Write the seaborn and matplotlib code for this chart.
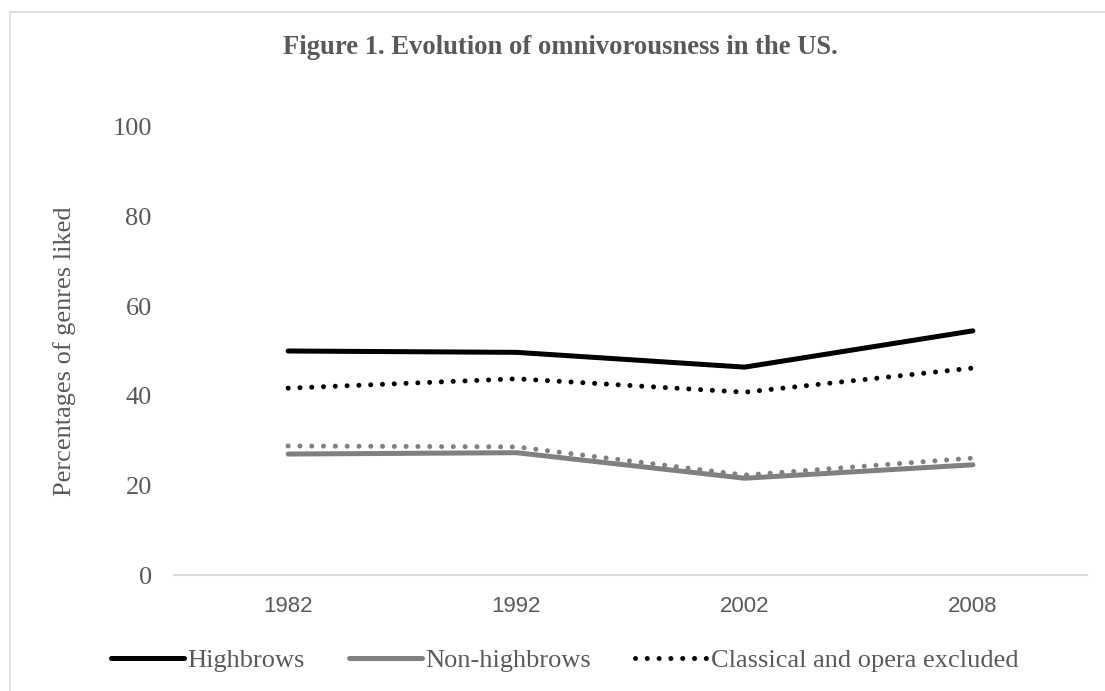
import numpy as np
import pandas as pd
import matplotlib
matplotlib.use("Agg")
import matplotlib.pyplot as plt
from matplotlib.lines import Line2D
import seaborn as sns

# ---- data ----
years = ["1982", "1992", "2002", "2008"]
highbrows = [50.0, 49.7, 46.4, 54.5]
non_highbrows = [27.0, 27.3, 21.6, 24.6]
highbrows_excl = [41.7, 43.8, 40.8, 46.2]
non_highbrows_excl = [28.8, 28.6, 22.3, 26.1]
series_names = ["Highbrows", "Non-highbrows",
                "Highbrows (classical and opera excluded)",
                "Non-highbrows (classical and opera excluded)"]
legend_labels = ["Highbrows", "Non-highbrows", "Classical and opera excluded"]
title = "Figure 1. Evolution of omnivorousness in the US."
ylabel = "Percentages of genres liked"
yticks = [0, 20, 40, 60, 80, 100]

sns.set_theme(style="white")
plt.rcParams["font.family"] = ["Liberation Serif", "DejaVu Serif"]

pos = np.arange(len(years))
df = pd.DataFrame({
    "pos": np.tile(pos, 4),
    "value": highbrows + non_highbrows + highbrows_excl + non_highbrows_excl,
    "series": np.repeat(series_names, len(years)),
})

W, H = 1105, 691
fig = plt.figure(figsize=(W / 100, H / 100), dpi=100)
ax = fig.add_axes([174 / W, 1 - 575 / H, (1087 - 174) / W, (575 - 127) / H])

BLACK = "#000000"
GRAY = "#808080"
TXT = "#595959"
LW = 3.6
dot = (0, (0.01, 2.35))

styles = {
    series_names[0]: dict(color=BLACK, ls="-"),
    series_names[1]: dict(color=GRAY, ls="-"),
    series_names[2]: dict(color=BLACK, ls=dot),
    series_names[3]: dict(color=GRAY, ls=dot),
}
draw_order = [series_names[3], series_names[1], series_names[2], series_names[0]]
for name in draw_order:
    sub = df[df["series"] == name]
    st = styles[name]
    sns.lineplot(data=sub, x="pos", y="value", ax=ax, color=st["color"],
                 linewidth=LW, linestyle=st["ls"], solid_capstyle="round",
                 dash_capstyle="round", legend=False, zorder=3)

ax.set_xlim(-0.5, len(years) - 0.5)
ax.set_ylim(0, 100)
ax.set_xticks(pos)
ax.set_xticklabels(years, family=["Liberation Sans Narrow", "Liberation Sans", "DejaVu Sans"],
                   fontsize=16, color=TXT)
ax.set_yticks(yticks)
ax.set_yticklabels([str(v) for v in yticks], fontsize=19, color=TXT)
ax.tick_params(axis="x", length=0, pad=15)
ax.tick_params(axis="y", length=0, pad=16)
ax.set_xlabel("")
ax.set_ylabel(ylabel, fontsize=19, color=TXT, labelpad=26)
for s in ["top", "right", "left"]:
    ax.spines[s].set_visible(False)
ax.spines["bottom"].set_color("#D9D9D9")
ax.spines["bottom"].set_linewidth(1.5)
ax.set_facecolor("none")

fig.text(560 / W, 1 - 48 / H, title, ha="center", va="center",
         fontsize=19.2, fontweight="bold", color=TXT)

handles = [
    Line2D([], [], color=BLACK, lw=LW, ls="-", solid_capstyle="round"),
    Line2D([], [], color=GRAY, lw=LW, ls="-", solid_capstyle="round"),
    Line2D([], [], color=BLACK, lw=LW, ls=dot, dash_capstyle="round"),
]
leg = fig.legend(handles, legend_labels, loc="center", bbox_to_anchor=(565 / W, 1 - 660 / H),
                 ncol=3, frameon=False, fontsize=19, handlelength=2.75,
                 handletextpad=0.12, columnspacing=1.7, labelcolor=TXT)

# chart border (top and left edges visible)
fig.add_artist(Line2D([10 / W, 1.0], [1 - 12 / H, 1 - 12 / H], transform=fig.transFigure,
                      color="#D9D9D9", lw=1.2))
fig.add_artist(Line2D([10 / W, 10 / W], [0, 1 - 12 / H], transform=fig.transFigure,
                      color="#D9D9D9", lw=1.2))

fig.savefig("out.png", dpi=100, facecolor="white")
